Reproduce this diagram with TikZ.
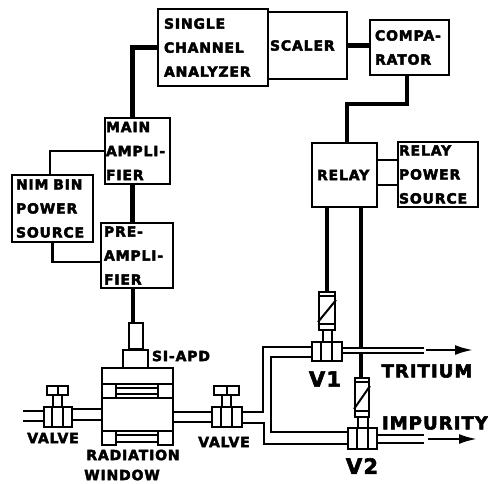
\documentclass[tikz,border=0pt]{standalone}
\usepackage{fontspec}
\usepackage{tikz}
\usetikzlibrary{positioning}
\usetikzlibrary{arrows.meta}
\usetikzlibrary{calc}
\newfontfamily\labelfont[LetterSpace=6,FakeBold=3]{DejaVu Sans Bold}
\tikzstyle{block}=[draw,line width=2pt,rectangle,inner ysep=0pt,align=left,font=\labelfont\fontsize{14}{24}\selectfont]
\tikzstyle{part}=[draw,line width=2pt,rectangle,inner sep=0pt,fill=white]
\tikzstyle{tag}=[inner sep=0pt,font=\labelfont\fontsize{14}{16}\selectfont]
\tikzstyle{widetag}=[inner sep=0pt,font=\labelfont\fontsize{18}{20}\selectfont]
\tikzstyle{bigtag}=[inner sep=0pt,font=\labelfont\fontsize{21}{24}\selectfont]
\tikzstyle{signal} = [draw,line width=4.6pt]
\tikzstyle{wire} = [draw,line width=2.8pt]
\tikzstyle{pipe} = [draw,line width=2pt]
\tikzstyle{flow} = [draw,line width=2.4pt,-{Latex[length=18pt,width=10pt]}]

\begin{document}
\begin{tikzpicture}[x=1pt,y=-1pt]
  \useasboundingbox (0,0) rectangle (488,483);

  % electronics
  \foreach \x/\y/\w/\h/\ins/\name/\label in {
      213/47.5/110/77/6/sca/{SINGLE\\CHANNEL\\ANALYZER},
      307.5/45.5/79/67/2/scaler/{SCALER},
      409.5/47.5/79/55/5/comp/{COMPA-\\RATOR},
      344.5/175/65/64/5/relay/{RELAY},
      438/174.5/80/65/1/relaypower/{RELAY\\POWER\\SOURCE},
      137.5/151/65/66/1/mainamp/{MAIN\\AMPLI-\\FIER},
      52.5/208.5/81/67/4/nim/{NIM BIN\\POWER\\SOURCE},
      137/255.5/72/65/3/preamp/{PRE-\\AMPLI-\\FIER}}
     \node[block,inner xsep=\ins pt,text width=\w pt-2*\ins pt,minimum height=\h pt] (\name) at (\x,\y) {\label};

  % detector stack
  \foreach \x/\y/\w/\h/\name in {
      136/336/14/26/tube, 135.5/359/25/18/apd,
      137.5/376/71/16/flange, 137.5/414.5/71/33/chamber,
      109/391/14/14/padA, 165.5/391/15/14/padB,
      109/438/14/14/padC, 165.5/438/15/14/padD}
     \node[part,minimum width=\w pt,minimum height=\h pt] (\name) at (\x,\y) {};

  % valves and solenoids
  \foreach \x/\y/\w/\h/\name in {
      58/417/28/20/valveL, 227/417/30/20/valveR,
      327/351.5/30/19/vone, 362.5/438.5/29/21/vtwo,
      57.5/401/9/12/stemL, 226.5/401/9/12/stemR,
      327.5/336/9/12/stemone, 363/422.5/10/11/stemtwo,
      57.5/390.5/21/9/knobL, 226.5/390.5/25/9/knobR,
      327/311/16/38/solone, 362/397.5/14/39/soltwo}
     \node[part,minimum width=\w pt,minimum height=\h pt] (\name) at (\x,\y) {};

  \foreach \name in {valveL,valveR,vone,vtwo} {
     \draw[pipe] ([xshift=-6pt]\name.north) -- ([xshift=-6pt]\name.south);
     \draw[pipe] ([xshift=5pt]\name.north) -- ([xshift=5pt]\name.south);
  }
  \foreach \name in {knobL,knobR}
     \draw[pipe] (\name.north) -- (\name.south);
  \foreach \name in {solone,soltwo} {
     \draw[pipe] ([yshift=-5pt]\name.north west) -- ([yshift=-5pt]\name.north east);
     \draw[pipe] ([yshift=7pt]\name.south west) -- ([yshift=7pt]\name.south east);
     \draw[pipe] ([yshift=9pt]\name.south west) -- ([yshift=-9pt]\name.north east);
  }

  % signal lines
  \path[signal] (sca.west) -| ([xshift=-5pt]mainamp.north);
  \path[signal] ([xshift=-5pt]mainamp.south) -- ([xshift=-4.5pt]preamp.north);
  \path[signal] ([xshift=-4pt]preamp.south) -- ([xshift=-3pt]tube.north);
  \path[signal] (scaler.east) -- (scaler.east -| comp.west);
  \path[signal] ([xshift=-2.5pt]comp.south) -- ++(0,28) -| ([xshift=2.5pt]relay.north);
  \path[signal] ([xshift=-17.5pt]relay.south) -- (solone.north);
  \path[signal] ([xshift=16.5pt]relay.south) -- ([xshift=-1pt]soltwo.north);
  \path[wire] (mainamp.west) -| ([xshift=-2.5pt]nim.north);
  \path[wire] (nim.south) |- ([yshift=-6.5pt]preamp.west);
  \path[wire] ([yshift=15pt]relay.east) -- ([yshift=15pt]relay.east -| relaypower.west);
  \path[wire] ([yshift=-10pt]relay.east) -- ([yshift=-10pt]relay.east -| relaypower.west);

  % window lines between the pads
  \path[pipe] ([yshift=3pt]padA.east) -- ([yshift=3pt]padB.west);
  \path[pipe] ([yshift=-3pt]padA.east) -- ([yshift=-3pt]padB.west);
  \path[pipe] ([yshift=3pt]padC.east) -- ([yshift=3pt]padD.west);
  \path[pipe] ([yshift=-4pt]padC.east) -- ([yshift=-4pt]padD.west);

  % gas lines
  \coordinate (inlet) at (23,416);
  \coordinate (tritiumend) at (424,350);
  \coordinate (impurityend) at (424,438);
  \path[pipe] ([yshift=6pt]valveL.west) -- ([yshift=6pt]inlet |- valveL.west);
  \path[pipe] ([yshift=-4pt]valveL.west) -- ([yshift=-4pt]inlet |- valveL.west);
  \path[pipe] ([yshift=8pt]valveL.east) -- ([yshift=8pt]valveL.east -| chamber.west);
  \path[pipe] ([yshift=-3pt]valveL.east) -- ([yshift=-3pt]valveL.east -| chamber.west);
  \path[pipe] ([yshift=5pt]valveR.west) -- ([yshift=5pt]valveR.west -| chamber.east);
  \path[pipe] ([yshift=-5pt]valveR.west) -- ([yshift=-5pt]valveR.west -| chamber.east);
  \path[pipe] ([yshift=5pt]valveR.east) -- ++(20,0) |- ([yshift=5pt]vone.west);
  \path[pipe] ([yshift=-6pt]valveR.east) -- ++(21,0) |- ([yshift=-5pt]vtwo.west);
  \path[pipe] ([yshift=-5pt]vone.west) -- ++(-40,0) |- ([yshift=7pt]vtwo.west);

  \fill[white] ([yshift=4pt]vone.east) rectangle ([yshift=-2pt]vone.east -| tritiumend);
  \path[pipe] ([yshift=4pt]vone.east) -- ([yshift=4pt]vone.east -| tritiumend);
  \path[pipe] ([yshift=-1pt]vone.east) -- ([yshift=-1pt]vone.east -| tritiumend);
  \path[pipe] ([yshift=4pt]vtwo.east) -- ([yshift=4pt]vtwo.east -| impurityend);
  \path[pipe] ([yshift=-4pt]vtwo.east) -- ([yshift=-4pt]vtwo.east -| impurityend);

  \coordinate (tritiumhead) at (473,350);
  \coordinate (impurityhead) at (477,439);
  \path[flow] ([xshift=2pt]tritiumend) -- (tritiumhead);
  \path[flow] ([xshift=4pt,yshift=-1pt]impurityend) -- (impurityhead);

  % labels
  \foreach \x/\y/\name/\label in {
      181/356/tagapd/{SI-APD},
      53/438/tagvalveL/{VALVE},
      224/442/tagvalveR/{VALVE},
      133/455/tagrad/{RADIATION},
      122/475/tagwin/{WINDOW}}
     \node[tag] (\name) at (\x,\y) {\label};
  \node[widetag] (tagtri) at (427,371) {TRITIUM};
  \node[widetag] (tagimp) at (435,423) {IMPURITY};
  \node[bigtag] (tagvone) at (325,379) {V1};
  \node[bigtag] (tagvtwo) at (362,466) {V2};
\end{tikzpicture}
\end{document}
